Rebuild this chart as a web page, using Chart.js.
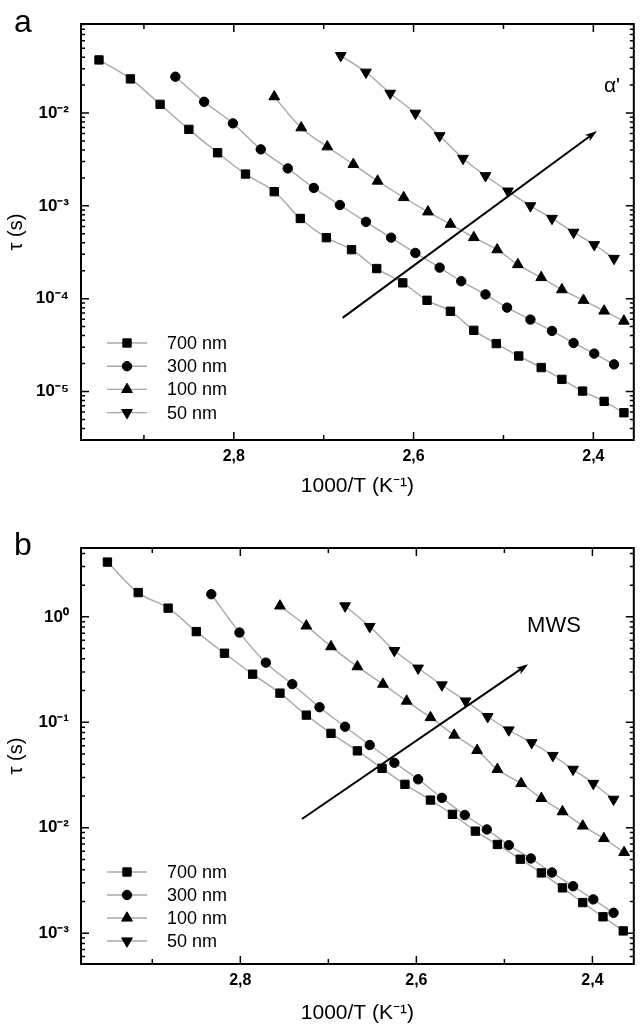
<!DOCTYPE html>
<html>
<head>
<meta charset="utf-8">
<script src="https://cdn.jsdelivr.net/npm/chart.js@4.4.1/dist/chart.umd.min.js"></script>
<style>
  html, body { margin: 0; padding: 0; background: #fff; }
  .panel { position: absolute; left: 0; width: 641px; }
  #wrapA { top: 0; height: 500px; }
  #wrapB { top: 500px; height: 526px; }
</style>
</head>
<body>
<div class="panel" id="wrapA"><canvas id="chartA" width="641" height="500"></canvas></div>
<div class="panel" id="wrapB"><canvas id="chartB" width="641" height="526"></canvas></div>
<script>
// sample names (legend)
const sizes = ['700 nm', '300 nm', '100 nm', '50 nm'];

// panel a : alpha' relaxation, 1000/T (K^-1) and tau (s)
const xA700 = [2.950, 2.915, 2.882, 2.850, 2.818, 2.787, 2.755, 2.726, 2.697, 2.669, 2.641, 2.612, 2.585, 2.559, 2.533, 2.508, 2.483, 2.458, 2.435, 2.412, 2.388, 2.366];
const tauA700 = [0.0373, 0.0233, 0.0124, 0.00667, 0.00373, 0.00220, 0.00142, 7.31e-4, 4.54e-4, 3.37e-4, 2.11e-4, 1.48e-4, 9.6e-5, 7.31e-5, 4.56e-5, 3.28e-5, 2.41e-5, 1.81e-5, 1.35e-5, 1.01e-5, 7.82e-6, 5.9e-6];
const xA300 = [2.865, 2.833, 2.801, 2.770, 2.740, 2.711, 2.682, 2.653, 2.625, 2.598, 2.571, 2.547, 2.520, 2.496, 2.470, 2.446, 2.422, 2.399, 2.377];
const tauA300 = [0.0246, 0.0132, 0.00774, 0.00406, 0.00253, 0.00156, 0.00102, 6.72e-4, 4.54e-4, 3.11e-4, 2.16e-4, 1.54e-4, 1.11e-4, 8.01e-5, 5.95e-5, 4.49e-5, 3.33e-5, 2.56e-5, 1.96e-5];
const xA100 = [2.755, 2.725, 2.696, 2.667, 2.640, 2.611, 2.584, 2.559, 2.533, 2.507, 2.484, 2.458, 2.435, 2.411, 2.388, 2.366];
const tauA100 = [0.0150, 0.00694, 0.00433, 0.00280, 0.00185, 0.00123, 8.62e-4, 6.35e-4, 4.56e-4, 3.37e-4, 2.33e-4, 1.69e-4, 1.25e-4, 9.61e-5, 7.37e-5, 5.74e-5];
const xA50 = [2.681, 2.653, 2.626, 2.598, 2.571, 2.545, 2.520, 2.495, 2.470, 2.446, 2.422, 2.399, 2.377];
const tauA50 = [0.0415, 0.0275, 0.0163, 0.00993, 0.00569, 0.00324, 0.00211, 0.00144, 1.0e-3, 7.31e-4, 5.18e-4, 3.81e-4, 2.71e-4];

// panel b : MWS relaxation
const xB700 = [2.951, 2.916, 2.882, 2.850, 2.818, 2.786, 2.755, 2.725, 2.697, 2.667, 2.639, 2.613, 2.584, 2.559, 2.533, 2.508, 2.482, 2.458, 2.434, 2.411, 2.388, 2.365];
const tauB700 = [3.31, 1.70, 1.21, 0.725, 0.452, 0.286, 0.189, 0.117, 0.0786, 0.0536, 0.0366, 0.0258, 0.0183, 0.0134, 0.00928, 0.00694, 0.00503, 0.00373, 0.00269, 0.00195, 0.00143, 0.00105];
const xB300 = [2.833, 2.801, 2.771, 2.741, 2.710, 2.681, 2.653, 2.625, 2.598, 2.571, 2.545, 2.520, 2.495, 2.470, 2.446, 2.422, 2.399, 2.376];
const tauB300 = [1.64, 0.710, 0.368, 0.230, 0.139, 0.0908, 0.0609, 0.0413, 0.0288, 0.0192, 0.0132, 0.00963, 0.00684, 0.00511, 0.00376, 0.00279, 0.00209, 0.00156];
const xB100 = [2.755, 2.725, 2.697, 2.667, 2.638, 2.611, 2.584, 2.557, 2.531, 2.508, 2.481, 2.458, 2.434, 2.411, 2.387, 2.364];
const tauB100 = [1.27, 0.821, 0.522, 0.337, 0.230, 0.159, 0.111, 0.0757, 0.0542, 0.0358, 0.0263, 0.0190, 0.0142, 0.0104, 0.00791, 0.00583];
const xB50 = [2.681, 2.653, 2.625, 2.598, 2.571, 2.544, 2.519, 2.495, 2.469, 2.445, 2.422, 2.399, 2.376];
const tauB50 = [1.27, 0.809, 0.479, 0.326, 0.226, 0.159, 0.113, 0.0845, 0.0640, 0.0484, 0.0358, 0.0263, 0.0186];

// ticks
const xMajorTicks = [2.4, 2.6, 2.8];
const xMinorTicks = [2.5, 2.7, 2.9];
const yMajorTicksA = [1e-5, 1e-4, 1e-3, 1e-2];
const yMajorTicksB = [1e-3, 1e-2, 1e-1, 1e0];

// arrows, [x0, tau0, x1, tau1] in data units
const arrowA = [2.679, 6.2e-5, 2.396, 6.4e-3];
const arrowB = [2.730, 0.0121, 2.473, 0.356];

const FONT = "'Liberation Sans', Arial, Helvetica, sans-serif";
const LINE_GRAY = '#a8a8a8';
Chart.defaults.font.family = FONT;
Chart.defaults.color = '#000';

const markers = [
  { pointStyle: 'rect', radius: 5.9, rotation: 0 },
  { pointStyle: 'circle', radius: 4.7, rotation: 0 },
  { pointStyle: 'triangle', radius: 6.2, rotation: 0 },
  { pointStyle: 'triangle', radius: 6.2, rotation: 180 }
];

const SUP = { '-': '\u207B', '0': '\u2070', '1': '\u00B9', '2': '\u00B2', '3': '\u00B3', '4': '\u2074', '5': '\u2075', '6': '\u2076' };
const sup = s => String(s).split('').map(c => SUP[c] || c).join('');

function makeSets(xs, ys) {
  return xs.map((xv, k) => {
    const m = markers[k];
    return {
      label: sizes[k],
      data: xv.map((v, i) => ({ x: v, y: ys[k][i] })),
      showLine: true,
      borderColor: LINE_GRAY,
      borderWidth: 1.4,
      tension: 0.4,
      pointStyle: m.pointStyle,
      pointRotation: m.rotation,
      pointRadius: m.radius,
      pointHoverRadius: m.radius,
      pointBackgroundColor: '#000',
      pointBorderColor: '#000',
      pointBorderWidth: 1
    };
  });
}

const decorPlugin = {
  id: 'decor',
  afterDraw(chart, args, o) {
    const { ctx, chartArea: a } = chart;
    const x = chart.scales.x, y = chart.scales.y;
    ctx.save();
    ctx.strokeStyle = '#000';
    ctx.fillStyle = '#000';

    // inward ticks on all four sides
    ctx.lineWidth = 1.5;
    ctx.beginPath();
    const vTick = (v, len) => {
      const px = x.getPixelForValue(v);
      ctx.moveTo(px, a.bottom); ctx.lineTo(px, a.bottom - len);
      ctx.moveTo(px, a.top); ctx.lineTo(px, a.top + len);
    };
    const hTick = (v, len) => {
      const py = y.getPixelForValue(v);
      if (py < a.top - 0.5 || py > a.bottom + 0.5) return;
      ctx.moveTo(a.left, py); ctx.lineTo(a.left + len, py);
      ctx.moveTo(a.right, py); ctx.lineTo(a.right - len, py);
    };
    xMajorTicks.forEach(v => vTick(v, 8));
    xMinorTicks.forEach(v => vTick(v, 5));
    const lo = Math.floor(Math.log10(y.min)), hi = Math.ceil(Math.log10(y.max));
    for (let d = lo; d <= hi; d++) {
      hTick(Math.pow(10, d), 8);
      for (let k = 2; k <= 9; k++) hTick(k * Math.pow(10, d), 4);
    }
    ctx.stroke();

    // frame
    ctx.lineWidth = 2;
    ctx.strokeRect(a.left, a.top, a.right - a.left, a.bottom - a.top);

    // arrow
    const ar = o.arrow;
    const x0 = x.getPixelForValue(ar[0]), y0 = y.getPixelForValue(ar[1]);
    const x1 = x.getPixelForValue(ar[2]), y1 = y.getPixelForValue(ar[3]);
    const ang = Math.atan2(y1 - y0, x1 - x0);
    const c = Math.cos(ang), s = Math.sin(ang);
    ctx.lineWidth = 2;
    ctx.beginPath();
    ctx.moveTo(x0, y0);
    ctx.lineTo(x1 - 8 * c, y1 - 8 * s);
    ctx.stroke();
    ctx.beginPath();
    ctx.moveTo(x1, y1);
    ctx.lineTo(x1 - 12 * c - 4 * s, y1 - 12 * s + 4 * c);
    ctx.lineTo(x1 - 9 * c, y1 - 9 * s);
    ctx.lineTo(x1 - 12 * c + 4 * s, y1 - 12 * s - 4 * c);
    ctx.closePath();
    ctx.fill();

    // legend (line through marker)
    ctx.textBaseline = 'middle';
    ctx.textAlign = 'left';
    ctx.font = '18px ' + FONT;
    chart.data.datasets.forEach((ds, i) => {
      const yy = o.legendTop + i * o.legendStep;
      ctx.strokeStyle = LINE_GRAY;
      ctx.lineWidth = 1.4;
      ctx.beginPath();
      ctx.moveTo(a.left + 26, yy); ctx.lineTo(a.left + 66, yy);
      ctx.stroke();
      ctx.strokeStyle = '#000';
      ctx.fillStyle = '#000';
      ctx.lineWidth = 1;
      Chart.helpers.drawPoint(ctx, { pointStyle: ds.pointStyle, rotation: ds.pointRotation, radius: ds.pointRadius, borderWidth: 1 }, a.left + 46, yy);
      ctx.fillText(ds.label, a.left + 86, yy + 1);
    });

    // panel letter and note
    ctx.font = '32px ' + FONT;
    ctx.textBaseline = 'alphabetic';
    ctx.fillText(o.letter, 14, o.letterY);
    ctx.font = o.noteSize + 'px ' + FONT;
    ctx.textAlign = 'center';
    ctx.textBaseline = 'middle';
    ctx.fillText(o.note, o.noteX, o.noteY);
    ctx.restore();
  }
};

function makeChart(id, sets, xr, yr, yTicks, fitH, padTop, deco) {
  return new Chart(document.getElementById(id), {
    type: 'scatter',
    data: { datasets: sets },
    plugins: [decorPlugin],
    options: {
      responsive: false,
      animation: false,
      events: [],
      layout: { padding: { top: padTop, right: 3, left: 0, bottom: 0 } },
      plugins: { legend: { display: false }, tooltip: { enabled: false }, decor: deco },
      scales: {
        x: {
          type: 'linear',
          reverse: true,
          min: xr[0], max: xr[1],
          afterBuildTicks: sc => { sc.ticks = xMajorTicks.map(v => ({ value: v })); },
          afterFit: sc => { sc.height = fitH; },
          grid: { display: false, drawTicks: false },
          border: { display: false },
          ticks: {
            autoSkip: false, maxRotation: 0, padding: 7,
            font: { size: 16, weight: 'bold' },
            callback: v => v.toFixed(1).replace('.', ',')
          },
          title: { display: true, text: '1000/T (K\u207B\u00B9)', font: { size: 21 }, padding: { top: 0, bottom: deco.titlePad } }
        },
        y: {
          type: 'logarithmic',
          min: yr[0], max: yr[1],
          afterBuildTicks: sc => { sc.ticks = yTicks.map(v => ({ value: v })); },
          afterFit: sc => { sc.width = 81; },
          grid: { display: false, drawTicks: false },
          border: { display: false },
          ticks: {
            autoSkip: false, padding: 12,
            font: { size: 17, weight: 'bold' },
            callback: v => '10' + sup(Math.round(Math.log10(v)))
          },
          title: { display: true, text: '\u03C4 (s)', font: { size: 20 }, padding: { top: 4, bottom: 0 } }
        }
      }
    }
  });
}

makeChart('chartA',
  makeSets([xA700, xA300, xA100, xA50], [tauA700, tauA300, tauA100, tauA50]),
  [2.355, 2.97], [3e-6, 0.091], yMajorTicksA, 60, 24,
  { arrow: arrowA, legendTop: 343, legendStep: 23.2, letter: 'a', letterY: 32, note: '\u03B1\'', noteX: 612, noteY: 86, noteSize: 21, titlePad: 1 });

makeChart('chartB',
  makeSets([xB700, xB300, xB100, xB50], [tauB700, tauB300, tauB100, tauB50]),
  [2.353, 2.981], [5.1e-4, 4.5], yMajorTicksB, 62, 48,
  { arrow: arrowB, legendTop: 372, legendStep: 23, letter: 'b', letterY: 55, note: 'MWS', noteX: 554, noteY: 126, noteSize: 22, titlePad: 0 });
</script>
</body>
</html>
